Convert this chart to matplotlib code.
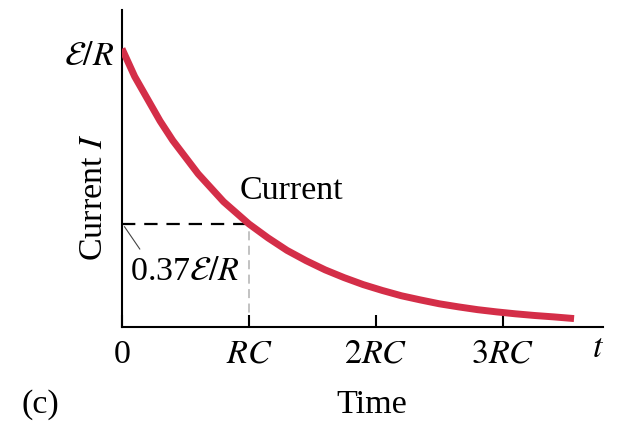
import matplotlib
matplotlib.use("Agg")
import matplotlib.pyplot as plt

plt.rcParams['font.family'] = ['Liberation Serif', 'DejaVu Serif']
plt.rcParams['mathtext.fontset'] = 'stix'

# Data (time in units of RC, current in units of E/R)
t_vals = [0, 0.05, 0.1, 0.15, 0.2, 0.3, 0.4, 0.5, 0.6, 0.7, 0.8, 0.9, 1.0,
          1.15, 1.3, 1.45, 1.6, 1.75, 1.9, 2.05, 2.2, 2.35, 2.5, 2.65, 2.8,
          2.95, 3.1, 3.25, 3.4, 3.56]
i_vals = [1.0, 0.95, 0.90, 0.86, 0.82, 0.74, 0.67, 0.61, 0.55, 0.50, 0.45,
          0.41, 0.37, 0.32, 0.275, 0.238, 0.205, 0.177, 0.152, 0.131, 0.112,
          0.097, 0.083, 0.072, 0.062, 0.054, 0.047, 0.041, 0.036, 0.030]
tick_pos = [0, 1, 2, 3]
tick_labels = ['0', '$RC$', '$2RC$', '$3RC$']
rc_time = 1.0
rc_level = 0.37

FS = 24.5

fig = plt.figure(figsize=(6.17, 4.24), dpi=100)
ax = fig.add_axes([0.1977, 0.229, 0.78, 0.748])
ax.set_xlim(0, 3.79)
ax.set_ylim(0, 1.14)

ax.plot(t_vals, i_vals, color='#D42E48', lw=5, solid_capstyle='butt',
        solid_joinstyle='round', zorder=3)

# dashed guides
ax.plot([0, rc_time], [rc_level, rc_level], color='black', lw=1.6,
        dashes=(6, 4), zorder=2)
ax.plot([rc_time, rc_time], [0, rc_level], color='#bdbdbd', lw=1.3,
        dashes=(5, 3), zorder=1)

# leader line for 0.37 label
ax.plot([0.02, 0.14], [0.36, 0.28], color='#444444', lw=0.8)
ax.text(0.06, 0.20, r'0.37$\mathcal{E}/R$', fontsize=FS, ha='left', va='center')

ax.text(0.93, 0.49, 'Current', fontsize=FS, ha='left', va='center')

for s in ['top', 'right']:
    ax.spines[s].set_visible(False)
for s in ['left', 'bottom']:
    ax.spines[s].set_linewidth(1.5)

ax.set_yticks([])
ax.set_xticks(tick_pos)
ax.set_xticklabels(tick_labels, fontsize=FS)
ax.tick_params(axis='x', direction='in', length=8.5, width=1.5, pad=9)

ax.text(-0.06, 0.97, r'$\mathcal{E}/R$', fontsize=FS, ha='right', va='center')

fig.text(0.152, 0.535, r'Current $I$', fontsize=FS, rotation=90,
         ha='center', va='center')
fig.text(0.969, 0.178, r'$t$', fontsize=FS, ha='center', va='center')
fig.text(0.603, 0.045, 'Time', fontsize=FS, ha='center', va='center')
fig.text(0.065, 0.045, '(c)', fontsize=FS, ha='center', va='center')

fig.savefig('out.png', dpi=100)
